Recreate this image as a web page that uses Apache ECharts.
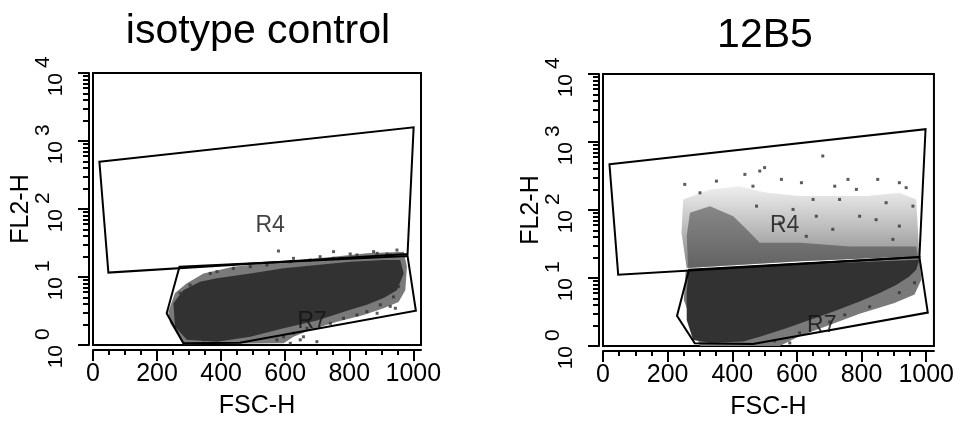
<!DOCTYPE html>
<html>
<head>
<meta charset="utf-8">
<script src="https://cdn.jsdelivr.net/npm/echarts@6.0.0/dist/echarts.min.js"></script>
<style>
html, body { margin: 0; padding: 0; background: #fff; }
#main { width: 957px; height: 426px; }
</style>
</head>
<body>
<div id="main"></div>
<script>
// axes
var xTicks = [0, 200, 400, 600, 800, 1000];
var xMinorTicks = [50, 100, 150, 250, 300, 350, 450, 500, 550, 650, 700, 750, 850, 900, 950];
var yTicks = [1, 10, 100, 1000, 10000];
var yExponents = ['0', '1', '2', '3', '4'];
var yMinorTicks = [2, 3, 4, 5, 6, 7, 8, 9, 20, 30, 40, 50, 60, 70, 80, 90,
    200, 300, 400, 500, 600, 700, 800, 900, 2000, 3000, 4000, 5000, 6000, 7000, 8000, 9000];
var panelTitles = ['isotype control', '12B5'];

// gates [FSC-H, FL2-H]
var leftR4 = [[20, 496], [1001, 1590], [982, 21.8], [48, 11.6]];
var leftR7 = [[270, 14.2], [982, 20.4], [1008, 3.19], [459, 1.08], [282, 1.06], [230, 2.93]];
var rightR4 = [[20, 470], [998, 1542], [979, 20.4], [47, 11.2]];
var rightR7 = [[266, 13.2], [979, 20.4], [1005, 3.1], [464, 1.07], [284, 1.1], [229, 2.77]];
var leftGateLabels = [['R4', 553, 56], ['R7', 684, 2.18]];
var rightGateLabels = [['R4', 562, 59], ['R7', 677, 1.97]];

// isotype control: dense cell cloud outline, its speckled edge, loose events
var leftCore = [[251, 4.1], [282, 6.4], [334, 8.5], [387, 9.6], [491, 11.3], [595, 13.4], [699, 15.0],
    [803, 16.8], [907, 17.8], [959, 17.8], [970, 11.3], [949, 6.4], [907, 4.9], [855, 3.9], [803, 3.3],
    [699, 2.3], [595, 1.76], [491, 1.32], [387, 1.12], [293, 1.19], [256, 1.86]];
var leftHalo = [[235, 3.09], [256, 5.8], [293, 8.1], [345, 11.3], [438, 14.2], [543, 15.9], [647, 17.8],
    [751, 19.9], [855, 22.3], [970, 23.6], [980, 14.2], [975, 6.4], [954, 4.3], [907, 3.47], [845, 2.76],
    [762, 2.2], [678, 1.66], [626, 1.32], [595, 1.06], [282, 1.03], [241, 2.08]];
var leftDots = [[579, 24.1], [751, 23.6], [876, 23.6], [949, 24.9], [626, 18.8], [709, 19.9], [803, 21.8],
    [918, 21.8], [366, 11.3], [387, 12.0], [438, 13.4], [491, 14.2], [543, 15.0], [616, 16.8], [678, 17.8],
    [751, 18.8], [824, 21.1], [887, 22.3], [928, 21.1], [303, 7.6], [272, 5.8], [954, 7.2], [938, 5.1],
    [928, 3.7], [897, 3.9], [855, 3.1], [824, 2.76], [782, 2.47], [741, 2.08], [668, 1.76], [626, 1.49],
    [595, 1.32], [657, 1.32], [699, 1.12], [647, 1.19], [574, 1.19], [345, 1.19], [313, 1.32], [616, 1.06],
    [944, 3.47], [887, 2.93]];

// 12B5: dense cloud in R7, shifted events in R4, loose events
var rightCore = [[269, 13.2], [588, 15.7], [979, 18.6], [969, 13.2], [948, 10.5], [907, 7.9], [856, 6.0],
    [794, 4.5], [711, 3.2], [639, 2.42], [567, 1.82], [485, 1.37], [433, 1.16], [331, 1.12], [279, 1.23],
    [259, 2.42], [259, 6.0], [264, 11.8]];
var rightHalo = [[256, 13.2], [609, 16.8], [979, 19.9], [985, 9.4], [964, 5.7], [902, 4.3], [794, 2.97],
    [701, 2.04], [609, 1.4], [547, 1.0], [300, 1.0], [250, 4.8]];
var rightShifted = [[248, 143], [331, 201], [423, 224], [506, 179], [609, 160], [711, 160], [815, 160],
    [917, 179], [969, 143], [979, 20.8], [609, 17.6], [259, 14.0], [243, 46]];
var rightShiftedDense = [[269, 91], [331, 114], [403, 81], [444, 52], [485, 33], [609, 33], [763, 29],
    [969, 29], [974, 20.8], [609, 17.6], [264, 14.0], [259, 41]];
var rightDots = [[680, 622], [439, 334], [485, 374], [500, 420], [351, 266], [253, 238], [552, 282],
    [614, 252], [717, 224], [758, 282], [850, 282], [917, 252], [938, 213], [784, 201], [876, 128],
    [300, 179], [464, 224], [650, 143], [732, 143], [959, 114], [588, 102], [660, 81], [845, 72],
    [917, 58], [475, 114], [547, 65], [711, 52], [794, 81], [629, 41], [897, 37],
    [608, 1.56], [701, 2.26], [825, 3.77], [917, 6.1], [964, 8.5], [531, 1.19], [578, 1.11], [748, 2.87]];

var sans = "'Liberation Sans', Arial, sans-serif";

function polygon(p, verts, fill, stroke, z) {
    return {
        type: 'custom',
        xAxisIndex: p * 2,
        yAxisIndex: p * 3,
        z: z,
        silent: true,
        data: verts,
        renderItem: function (params, api) {
            if (params.dataIndex !== 0) return;
            var pts = verts.map(function (v) { return api.coord(v); });
            return {
                type: 'polygon',
                shape: { points: pts },
                style: { fill: fill, stroke: stroke, lineWidth: stroke ? 2 : 0 }
            };
        }
    };
}

function dots(p, pts) {
    return {
        type: 'scatter',
        xAxisIndex: p * 2,
        yAxisIndex: p * 3,
        z: 4,
        silent: true,
        symbol: 'rect',
        symbolSize: 3,
        itemStyle: { color: '#333' },
        data: pts
    };
}

function gateLabels(p, list) {
    return {
        type: 'scatter',
        xAxisIndex: p * 2,
        yAxisIndex: p * 3,
        z: 6,
        silent: true,
        symbolSize: 0,
        label: {
            show: true,
            position: 'inside',
            formatter: '{b}',
            color: '#111',
            fontSize: 23,
            fontFamily: sans
        },
        data: list.map(function (d) { return { name: d[0], value: [d[1], d[2]] }; })
    };
}

var tickLine = { color: '#000', width: 2 };

function axesFor(p) {
    var xs = [{
        gridIndex: p, type: 'value', min: 0, max: 1024, position: 'bottom', offset: 5,
        axisLine: { show: true, onZero: false, lineStyle: tickLine },
        axisTick: { show: true, length: 11, customValues: xTicks, lineStyle: tickLine },
        axisLabel: {
            customValues: xTicks, margin: 12, color: '#000', fontSize: 25, fontFamily: sans,
            formatter: function (v) { return String(v); }
        },
        splitLine: { show: false },
        name: 'FSC-H', nameLocation: 'middle', nameGap: 44,
        nameTextStyle: { color: '#000', fontSize: 25, fontFamily: sans }
    }, {
        gridIndex: p, type: 'value', min: 0, max: 1024, position: 'bottom', offset: 5,
        axisLine: { show: false, onZero: false },
        axisTick: { show: true, length: 5, customValues: xMinorTicks, lineStyle: tickLine },
        axisLabel: { show: false },
        splitLine: { show: false }
    }];
    var ys = [{
        gridIndex: p, type: 'log', logBase: 10, min: 1, max: 10000, position: 'left', offset: 4,
        axisLine: { show: true, onZero: false, lineStyle: tickLine },
        axisTick: { show: true, length: 11, customValues: yTicks, lineStyle: tickLine },
        axisLabel: {
            customValues: yTicks, rotate: 90, margin: 22,
            align: 'right', verticalAlign: 'bottom',
            color: '#000', fontSize: 21, fontFamily: sans,
            formatter: function () { return '10'; }
        },
        splitLine: { show: false },
        name: 'FL2-H', nameLocation: 'middle', nameRotate: 90, nameGap: 55,
        nameTextStyle: { color: '#000', fontSize: 25, fontFamily: sans }
    }, {
        gridIndex: p, type: 'log', logBase: 10, min: 1, max: 10000, position: 'left', offset: 4,
        axisLine: { show: false, onZero: false },
        axisTick: { show: true, length: 6, customValues: yMinorTicks, lineStyle: tickLine },
        axisLabel: { show: false },
        splitLine: { show: false }
    }, {
        // superscript exponents of the decade labels
        gridIndex: p, type: 'log', logBase: 10, min: 1, max: 10000, position: 'left', offset: 4,
        axisLine: { show: false, onZero: false },
        axisTick: { show: false },
        axisLabel: {
            customValues: yTicks, rotate: 90, margin: 35,
            align: 'left', verticalAlign: 'bottom', padding: [0, 0, 0, 5],
            color: '#000', fontSize: 21, fontFamily: sans,
            formatter: function (v) { return yExponents[yTicks.indexOf(v)]; }
        },
        splitLine: { show: false }
    }];
    return { x: xs, y: ys };
}

var a0 = axesFor(0), a1 = axesFor(1);
var shiftedFill = new echarts.graphic.LinearGradient(0, 0, 0, 1, [
    { offset: 0, color: '#efefef' }, { offset: 0.5, color: '#bdbdbd' }, { offset: 1, color: '#868686' }
]);

var option = {
    animation: false,
    backgroundColor: '#fff',
    grid: [
        { left: 93, top: 73, width: 328, height: 272, show: true, borderColor: '#000', borderWidth: 2 },
        { left: 603, top: 74, width: 331, height: 272, show: true, borderColor: '#000', borderWidth: 2 }
    ],
    xAxis: a0.x.concat(a1.x),
    yAxis: a0.y.concat(a1.y),
    graphic: [
        { type: 'text', x: 258, y: 32, style: { text: panelTitles[0], font: '41px ' + sans, fill: '#000', align: 'center', verticalAlign: 'middle' } },
        { type: 'text', x: 765, y: 36, style: { text: panelTitles[1], font: '41px ' + sans, fill: '#000', align: 'center', verticalAlign: 'middle' } }
    ],
    series: [
        polygon(0, leftHalo, '#7a7a7a', null, 1),
        polygon(0, leftCore, '#323232', null, 2),
        dots(0, leftDots),
        polygon(0, leftR4, 'none', '#000', 5),
        polygon(0, leftR7, 'none', '#000', 5),
        gateLabels(0, leftGateLabels),

        polygon(1, rightShifted, shiftedFill, null, 1),
        polygon(1, rightShiftedDense, 'rgba(70,70,70,0.55)', null, 1),
        polygon(1, rightHalo, '#7a7a7a', null, 1),
        polygon(1, rightCore, '#323232', null, 2),
        dots(1, rightDots),
        polygon(1, rightR4, 'none', '#000', 5),
        polygon(1, rightR7, 'none', '#000', 5),
        gateLabels(1, rightGateLabels)
    ]
};
var chart = echarts.init(document.getElementById('main'));
chart.setOption(option, true);
</script>
</body>
</html>
